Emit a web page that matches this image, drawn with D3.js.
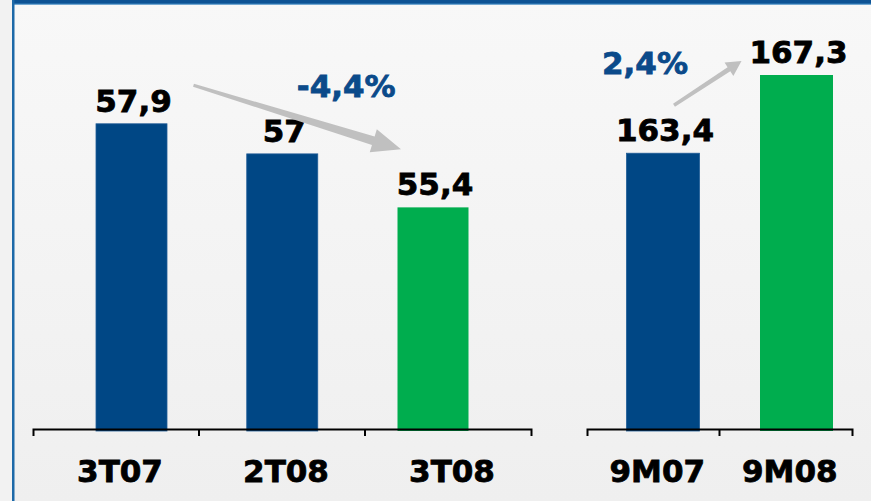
<!DOCTYPE html>
<html><head><meta charset="utf-8">
<script src="https://cdn.jsdelivr.net/npm/d3@7"></script>
<style>
body{margin:0;background:#f2f2f2;}
svg{display:block;}
text{font-family:"DejaVu Sans",Verdana,sans-serif;font-weight:bold;}
</style>
</head><body>
<svg id="c" width="871" height="501"></svg>
<script>
// ---- data ----
const quarterCats = ["3T07", "2T08", "3T08"];
const quarterVals = [57.9, 57, 55.4];
const quarterLabels = ["57,9", "57", "55,4"];
const ytdCats = ["9M07", "9M08"];
const ytdVals = [163.4, 167.3];
const ytdLabels = ["163,4", "167,3"];
const changeLabels = ["-4,4%", "2,4%"];

// ---- styles ----
const BLUE = "#004785", GREEN = "#00ad4e", ARROW = "#c0c0c0", PCT = "#0b4a8a";

const svg = d3.select("#c");
const defs = svg.append("defs");
const g = defs.append("linearGradient").attr("id","bg").attr("x1",0).attr("y1",0).attr("x2",0).attr("y2",1);
g.append("stop").attr("offset","0%").attr("stop-color","#f8f8f8");
g.append("stop").attr("offset","100%").attr("stop-color","#efefef");

// frame
svg.append("rect").attr("x",12).attr("y",0).attr("width",859).attr("height",501).attr("fill","url(#bg)");
svg.append("rect").attr("x",12).attr("y",0).attr("width",859).attr("height",4).attr("fill","#0d5394");
svg.append("rect").attr("x",12).attr("y",3.5).attr("width",859).attr("height",1.2).attr("fill","#3d86c0");
svg.append("rect").attr("x",12).attr("y",0).attr("width",2.5).attr("height",501).attr("fill","#1d69a8");

// ---- scales ----
const baseY = 430;
const xAxisL = d3.scaleBand().domain(quarterCats).range([33, 531]);
const xBarL = d3.scalePoint().domain(quarterCats).range([131.5, 433]);
const yL = d3.scaleLinear().domain([48.74, 57.9]).range([baseY, 123.8]);

const xAxisR = d3.scaleBand().domain(ytdCats).range([587, 852]);
const xBarR = d3.scalePoint().domain(ytdCats).range([663, 796.5]);
const yR = d3.scaleLinear().domain([149.6, 167.3]).range([baseY, 75]);

const barW = 71;
const FS = 31, SW = 0.8;

function drawGroup(cats, vals, labels, xb, y, bw) {
  const grp = svg.append("g");
  grp.selectAll("rect").data(cats).join("rect")
    .attr("x", c => xb(c) - bw/2)
    .attr("y", (c,i) => y(vals[i]))
    .attr("width", bw)
    .attr("height", (c,i) => baseY + 1 - y(vals[i]))
    .attr("fill", (c,i) => i === cats.length - 1 ? GREEN : BLUE)
    .attr("stroke", (c,i) => i === cats.length - 1 ? "none" : "#1f5c97")
    .attr("stroke-width", 0.8);
  grp.selectAll("text").data(cats).join("text")
    .attr("x", c => xb(c) + 2)
    .attr("y", (c,i) => y(vals[i]) - 12)
    .attr("text-anchor","middle")
    .attr("font-size", FS)
    .attr("fill","#000").attr("stroke","#000").attr("stroke-width",SW)
    .text((c,i) => labels[i]);
}
drawGroup(quarterCats, quarterVals, quarterLabels, xBarL, yL, barW);
drawGroup(ytdCats, ytdVals, ytdLabels, xBarR, yR, 73);

function drawAxis(scale) {
  const ax = svg.append("g").attr("transform", `translate(0,${baseY - 1})`)
    .call(d3.axisBottom(scale).tickSizeInner(0).tickSizeOuter(7).tickPadding(0));
  ax.select(".domain").attr("stroke","#000").attr("stroke-width",2);
  ax.selectAll(".tick text")
    .attr("y", 53).attr("dy", 0).attr("x", 4)
    .attr("font-size", FS)
    .attr("font-family", '"DejaVu Sans",Verdana,sans-serif')
    .attr("font-weight","bold")
    .attr("fill","#000").attr("stroke","#000").attr("stroke-width",SW);
  // inner boundary ticks
  ax.selectAll("line.bnd").data(scale.domain().slice(1)).join("line")
    .attr("class","bnd")
    .attr("x1", c => scale(c)).attr("x2", c => scale(c))
    .attr("y1", 0).attr("y2", 7)
    .attr("stroke","#000").attr("stroke-width",2);
}
drawAxis(xAxisL);
drawAxis(xAxisR);

// ---- arrows ----
function arrow(x0, y0, x1, y1, w0, w1, headLen, headHalf) {
  const dx = x1 - x0, dy = y1 - y0, L = Math.hypot(dx, dy);
  const ux = dx / L, uy = dy / L, nx = -uy, ny = ux;
  const bx = x1 - ux * headLen, by = y1 - uy * headLen;
  const pts = [
    [x0 + nx*w0/2, y0 + ny*w0/2],
    [bx + nx*w1/2, by + ny*w1/2],
    [bx + nx*headHalf, by + ny*headHalf],
    [x1, y1],
    [bx - nx*headHalf, by - ny*headHalf],
    [bx - nx*w1/2, by - ny*w1/2],
    [x0 - nx*w0/2, y0 - ny*w0/2]
  ];
  svg.append("path").attr("d", d3.line()(pts) + "Z").attr("fill", ARROW);
}
arrow(xBarL("3T07") + 62, yL(57.9) - 38.5, xBarL("3T08") - 32, yL(55.4) - 58, 3, 9, 29, 12);
arrow(xBarR("9M07") + 11, yR(163.4) - 48, xBarR("9M08") - 55, yR(167.3) - 14, 3.5, 5, 15, 8);

// ---- change labels ----
svg.append("text").attr("x", xBarL("2T08") + 64).attr("y", 97)
  .attr("text-anchor","middle").attr("font-size", FS).attr("fill", PCT)
  .attr("stroke", PCT).attr("stroke-width", SW).text(changeLabels[0]);
svg.append("text").attr("x", xBarR("9M07") - 18).attr("y", yR(167.3) - 1.5)
  .attr("text-anchor","middle").attr("font-size", FS).attr("fill", PCT)
  .attr("stroke", PCT).attr("stroke-width", SW).text(changeLabels[1]);
</script>
</body></html>
